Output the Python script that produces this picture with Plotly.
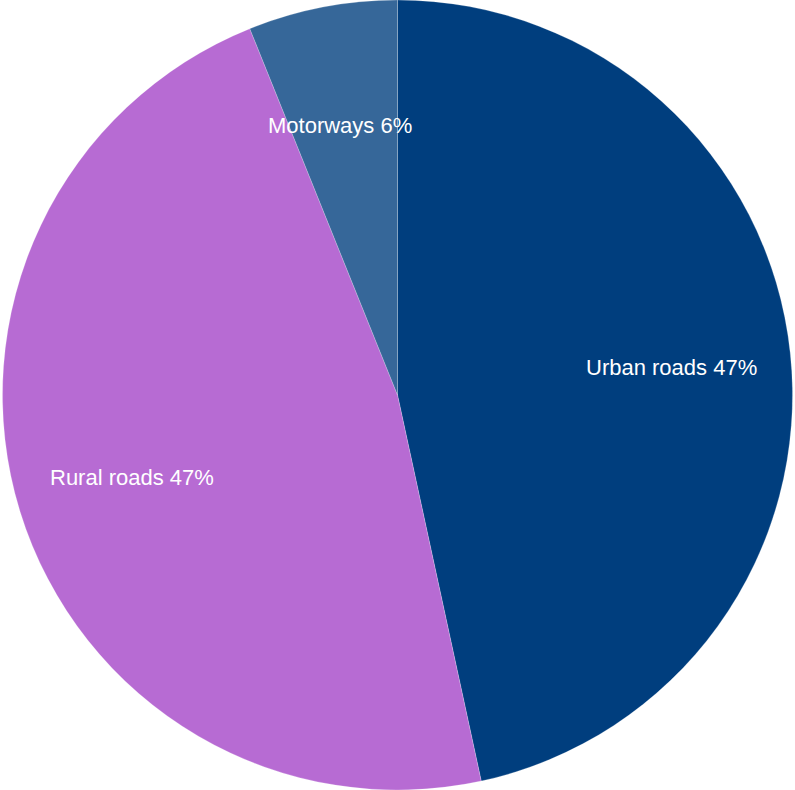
import plotly.graph_objects as go

# Share of traffic by road type
road_types = ["Urban roads", "Rural roads", "Motorways"]
shares = [46.6, 47.3, 6.1]
colors = ["#003e7e", "#b76bd3", "#366799"]

# Label anchor points (paper fractions) for each slice's caption
label_x = [584 / 795, 48 / 795, 266 / 795]
label_y = [1 - 367 / 790, 1 - 477 / 790, 1 - 126 / 790]

total = sum(shares)

fig = go.Figure(
    go.Pie(
        labels=road_types,
        values=shares,
        sort=False,
        direction="clockwise",
        rotation=0,
        marker=dict(colors=colors, line=dict(color="rgba(255,255,255,0.35)", width=0.6)),
        textinfo="none",
        hoverinfo="label+percent",
        showlegend=False,
        domain=dict(x=[0, 1], y=[0, 1]),
    )
)

for name, val, x, y in zip(road_types, shares, label_x, label_y):
    fig.add_annotation(
        x=x,
        y=y,
        xref="paper",
        yref="paper",
        xanchor="left",
        yanchor="middle",
        text=f"{name} {round(val / total * 100)}%",
        showarrow=False,
        font=dict(family="Liberation Sans, Arial, sans-serif", size=22, color="white"),
    )

fig.update_layout(
    width=795,
    height=790,
    margin=dict(l=0, r=0, t=0, b=0),
    paper_bgcolor="white",
    plot_bgcolor="white",
)

fig.write_html("out.html")
